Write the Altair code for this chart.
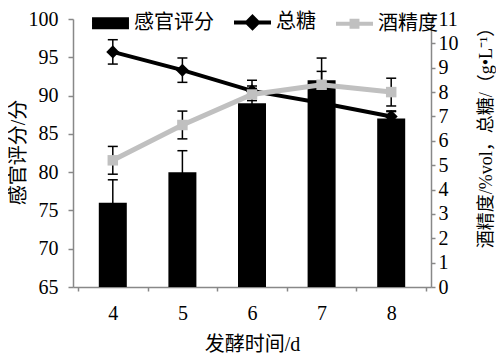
import altair as alt
import pandas as pd

days = [4, 5, 6, 7, 8]
sensory = [76, 80, 89, 92, 87]
sensory_err = [3.0, 2.8, 3.0, 2.9, 1.0]
sugar = [9.65, 8.9, 8.05, 7.55, 7.0]
sugar_err = [0.5, 0.5, 0.2, 0.2, 0.2]
alcohol = [5.2, 6.65, 7.9, 8.3, 8.0]
alcohol_err = [0.57, 0.57, 0.25, 0.55, 0.57]
series = ["感官评分", "总糖", "酒精度"]
x_ticks = [3.5, 4, 4.5, 5, 5.5, 6, 6.5, 7, 7.5, 8, 8.5]
left_ticks = [65, 70, 75, 80, 85, 90, 95, 100]
right_ticks = list(range(0, 12))

df = pd.DataFrame({
    "day": days,
    "sensory": sensory, "sensory_err": sensory_err,
    "sugar": sugar, "sugar_err": sugar_err,
    "alcohol": alcohol, "alcohol_err": alcohol_err,
    "series": ["感官评分"] * len(days),
})

FONT = "Liberation Serif, Noto Sans CJK SC"
AX = "#888888"
GRAY = "#c0c0c0"

x_enc = alt.X(
    "day:Q",
    scale=alt.Scale(domain=[3.5, 8.5], nice=False, zero=False),
    axis=alt.Axis(
        values=x_ticks,
        labelExpr="datum.value % 1 === 0 ? format(datum.value, 'd') : ''",
        tickOpacity={"condition": {"test": "datum.value % 1 === 0", "value": 0}, "value": 1},
        grid=False, domainColor=AX, domainWidth=1.5, tickColor=AX, tickWidth=1.5, tickSize=4,
        labelFont=FONT, labelFontSize=20, labelColor="black", labelPadding=22,
        labelBaseline="middle", labelOverlap=False, labelFlush=False,
        title="发酵时间/d", titleFont=FONT, titleFontSize=20, titleFontWeight="normal",
        titleColor="black", titleX=179, titleY=57, titleAlign="center", titleBaseline="middle",
    ),
)

yl_scale = alt.Scale(domain=[65, 100], nice=False, zero=False)
yr_scale = alt.Scale(domain=[0, 11], nice=False, zero=False)

left_axis = alt.Axis(
    values=left_ticks, grid=False, orient="left", labelOverlap=False, labelFlush=False,
    domainColor=AX, domainWidth=1.5, tickColor=AX, tickWidth=1.5, tickSize=5,
    labelFont=FONT, labelFontSize=20, labelColor="black", labelPadding=10,
    title="感官评分/分", titleFont=FONT, titleFontSize=20, titleFontWeight="normal",
    titleColor="black", titleAngle=270, titleX=-55, titleY=133,
    titleAlign="center", titleBaseline="middle",
)
right_axis = alt.Axis(
    values=right_ticks, grid=False, orient="right", labelOverlap=False, labelFlush=False,
    domainColor=AX, domainWidth=1.5, tickColor=AX, tickWidth=1.5, tickSize=4,
    labelFont=FONT, labelFontSize=20, labelColor="black", labelPadding=3,
    title="酒精度/%vol，总糖/（g•L⁻¹）", titleFont=FONT, titleFontSize=18,
    titleFontWeight="normal", titleColor="black", titleAngle=270, titleX=55, titleY=114,
    titleAlign="center", titleBaseline="middle",
)

shape_paths = [
    "M-0.89,-0.22H0.89V0.22H-0.89Z",
    "M-1,0H1M0,-0.3L0.3,0L0,0.3L-0.3,0Z",
    "M-1,0H1M-0.16,-0.16H0.16V0.16H-0.16Z",
]
colors = ["black", "black", GRAY]

legend = alt.Legend(
    title=None, orient="none", direction="horizontal", legendX=17, legendY=-17.5,
    symbolSize=1369, symbolStrokeWidth=4, symbolOpacity=1,
    labelFont=FONT, labelFontSize=20, labelColor="black",
    labelOffset=3, columnPadding=12, padding=0,
)

base = alt.Chart(df)

def yl(field):
    return alt.Y(field, scale=yl_scale, axis=left_axis)

def yr(field):
    return alt.Y(field, scale=yr_scale, axis=right_axis)

bars = base.mark_bar(size=28, color="black").encode(
    x=x_enc, y=yl("sensory:Q"), y2=alt.datum(65),
)

def err_layers(val, err, yfn):
    c = base.transform_calculate(
        lo=f"datum.{val} - datum.{err}", hi=f"datum.{val} + datum.{err}"
    )
    rule = c.mark_rule(color="black", strokeWidth=1.5).encode(
        x=x_enc, y=yfn("lo:Q"), y2="hi:Q"
    )
    top = c.mark_tick(color="black", size=10, thickness=1.5, orient="horizontal", opacity=1).encode(
        x=x_enc, y=yfn("hi:Q")
    )
    bot = c.mark_tick(color="black", size=10, thickness=1.5, orient="horizontal", opacity=1).encode(
        x=x_enc, y=yfn("lo:Q")
    )
    return [rule, top, bot]

left = alt.layer(bars, *err_layers("sensory", "sensory_err", yl))

sugar_line = base.mark_line(color="black", strokeWidth=4).encode(x=x_enc, y=yr("sugar:Q"))
sugar_pts = base.mark_point(shape="diamond", filled=True, size=170, color="black", opacity=1).encode(
    x=x_enc, y=yr("sugar:Q")
)
alc_line = base.mark_line(color=GRAY, strokeWidth=5).encode(x=x_enc, y=yr("alcohol:Q"))
alc_pts = base.mark_point(shape="square", filled=True, size=110, color=GRAY, opacity=1).encode(
    x=x_enc, y=yr("alcohol:Q")
)

legend_layer = base.transform_filter("false").mark_point(filled=True, opacity=1, strokeWidth=4).encode(
    x=x_enc,
    y=yr("sugar:Q"),
    fill=alt.Fill("series:N", scale=alt.Scale(domain=series, range=colors), legend=legend),
    stroke=alt.Stroke("series:N", scale=alt.Scale(domain=series, range=colors), legend=legend),
    shape=alt.Shape("series:N", scale=alt.Scale(domain=series, range=shape_paths), legend=legend),
)

right = alt.layer(
    *err_layers("sugar", "sugar_err", yr),
    *err_layers("alcohol", "alcohol_err", yr),
    sugar_line, sugar_pts, alc_line, alc_pts, legend_layer,
)

chart = alt.layer(left, right).resolve_scale(y="independent").properties(
    width=358, height=268,
    padding={"left": 65, "top": 11, "right": 65, "bottom": 67},
    autosize=alt.AutoSizeParams(type="none"),
).configure_view(stroke=None)

chart.save("out.html", embed_options={"renderer": "svg", "actions": False})
